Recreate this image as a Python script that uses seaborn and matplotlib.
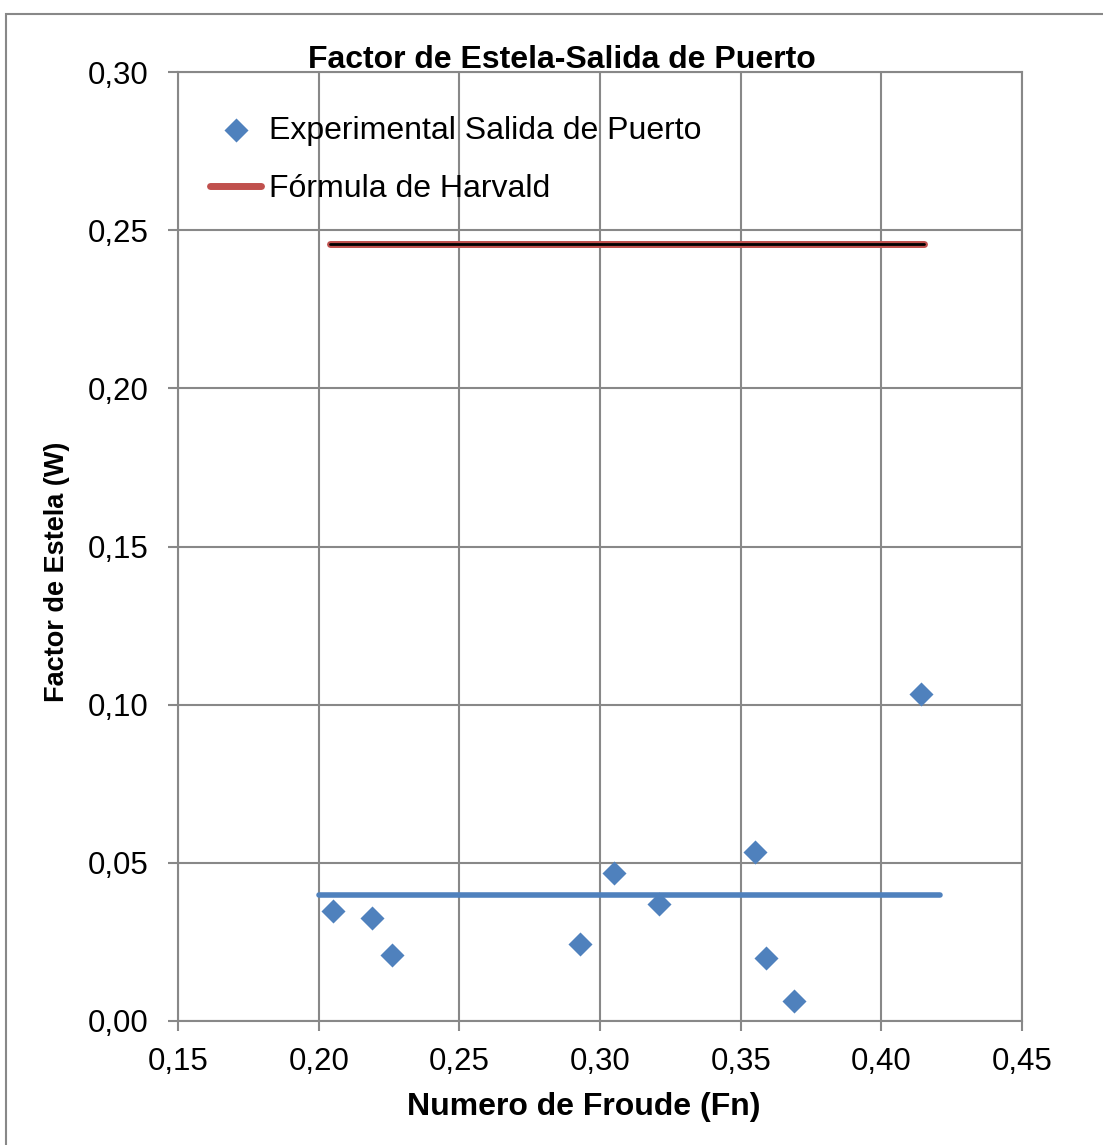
import numpy as np
import pandas as pd
import matplotlib
matplotlib.use("Agg")
import matplotlib.pyplot as plt
import seaborn as sns
from matplotlib.ticker import FuncFormatter

# Data
froude = [0.205, 0.219, 0.226, 0.293, 0.305, 0.321, 0.355, 0.359, 0.369, 0.414]
estela = [0.0348, 0.0326, 0.0209, 0.0243, 0.0468, 0.0370, 0.0534, 0.0199, 0.0063, 0.1034]

harvald_x = [0.204, 0.415]
harvald_y = [0.2455, 0.2455]

media_x = [0.200, 0.421]
media_y = [0.0398, 0.0398]

sns.set_theme(style="white")
plt.rcParams["font.family"] = ["Liberation Sans", "DejaVu Sans"]
plt.rcParams["text.color"] = "black"
plt.rcParams["axes.labelcolor"] = "black"
plt.rcParams["xtick.color"] = "black"
plt.rcParams["ytick.color"] = "black"

blue = "#4F81BD"
red = "#C0504D"

fig = plt.figure(figsize=(11.03, 11.45), dpi=100)
ax = fig.add_axes([0.1614, 0.1083, 0.9266 - 0.1614, 0.9371 - 0.1083])

# outer chart border
fig.patches.append(plt.Rectangle((0.005, -0.01), 1.1, 0.998, transform=fig.transFigure,
                                 fill=False, edgecolor="#888888", linewidth=1.5))

df = pd.DataFrame({"Fn": froude, "W": estela})
sns.scatterplot(data=df, x="Fn", y="W", marker="D", s=150, color=blue,
                edgecolor=blue, linewidth=0, ax=ax, zorder=4,
                label="Experimental Salida de Puerto")

sns.lineplot(x=media_x, y=media_y, color=blue, linewidth=4, ax=ax,
             solid_capstyle="round", zorder=3)
sns.lineplot(x=harvald_x, y=harvald_y, color=red, linewidth=5, ax=ax,
             solid_capstyle="round", zorder=3, label="Fórmula de Harvald")
sns.lineplot(x=harvald_x, y=harvald_y, color="black", linewidth=2, ax=ax, zorder=3)

ax.set_xlim(0.15, 0.45)
ax.set_ylim(0.0, 0.30)
ax.set_xticks(np.arange(0.15, 0.451, 0.05))
ax.set_yticks(np.arange(0.0, 0.301, 0.05))
fmt = FuncFormatter(lambda v, p: f"{v:.2f}".replace(".", ","))
ax.xaxis.set_major_formatter(fmt)
ax.yaxis.set_major_formatter(fmt)
ax.grid(True, color="#888888", linewidth=1.5)
for sp in ax.spines.values():
    sp.set_color("#888888")
    sp.set_linewidth(1.5)
ax.tick_params(axis="both", labelsize=22.5, length=7, width=1.5, color="#888888",
               labelcolor="black", direction="out", bottom=True, left=True)
ax.tick_params(axis="y", pad=14)
ax.tick_params(axis="x", pad=12)

ax.set_xlabel("Numero de Froude (Fn)", fontsize=23, fontweight="bold")
ax.xaxis.set_label_coords(0.481, -0.075)
ax.set_ylabel("Factor de Estela (W)", fontsize=19.5, fontweight="bold", va="center")
ax.yaxis.set_label_coords(-0.143, 0.473)
ax.set_title("Factor de Estela-Salida de Puerto", fontsize=23, fontweight="bold",
             pad=3, x=0.455)

leg = ax.legend(loc="upper left", bbox_to_anchor=(0.038, 0.954), frameon=False,
                fontsize=23, handlelength=1.6, handletextpad=0.25, labelspacing=0.88,
                borderpad=0, borderaxespad=0)

fig.savefig("out.png", dpi=100)
